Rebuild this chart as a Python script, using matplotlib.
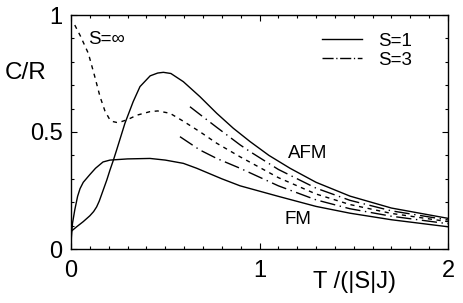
import matplotlib
matplotlib.use("Agg")
import matplotlib.pyplot as plt
from matplotlib.ticker import MultipleLocator
from matplotlib.lines import Line2D

plt.rcParams['font.family'] = ['Liberation Sans', 'DejaVu Sans']

# S=1 antiferromagnet (solid, upper)
T_afm1 = [0.0, 0.03, 0.065, 0.1, 0.12, 0.136, 0.15, 0.17, 0.19, 0.207, 0.225, 0.242, 0.286, 0.33, 0.366,
          0.42, 0.46, 0.49, 0.53, 0.596, 0.684, 0.773, 0.861, 0.95, 1.05, 1.162, 1.3, 1.48, 1.7, 2.0]
C_afm1 = [0.075, 0.095, 0.117, 0.142, 0.16, 0.18, 0.205, 0.25, 0.295, 0.338, 0.38, 0.423, 0.537, 0.63, 0.694,
          0.74, 0.752, 0.755, 0.75, 0.715, 0.651, 0.58, 0.516, 0.459, 0.40, 0.345, 0.285, 0.226, 0.175, 0.131]

# S=1 ferromagnet (solid, lower)
T_fm1 = [0.0, 0.002, 0.008, 0.02, 0.035, 0.048, 0.065, 0.1, 0.13, 0.17, 0.207, 0.3, 0.419, 0.5, 0.596,
         0.667, 0.8, 0.897, 1.1, 1.3, 1.48, 1.7, 2.0]
C_fm1 = [0.0, 0.05, 0.11, 0.167, 0.225, 0.258, 0.285, 0.318, 0.345, 0.372, 0.38, 0.385, 0.387, 0.38, 0.366,
         0.345, 0.30, 0.27, 0.225, 0.182, 0.153, 0.125, 0.095]

# S=3 antiferromagnet (dash-dot, upper)
T_afm3 = [0.631, 0.684, 0.773, 0.897, 0.95, 1.1, 1.3, 1.48, 1.7, 2.0]
C_afm3 = [0.608, 0.575, 0.52, 0.445, 0.416, 0.34, 0.26, 0.208, 0.163, 0.124]

# S=3 ferromagnet (dash-dot, lower)
T_fm3 = [0.578, 0.684, 0.773, 0.897, 1.1, 1.3, 1.48, 1.7, 2.0]
C_fm3 = [0.48, 0.423, 0.387, 0.345, 0.27, 0.21, 0.172, 0.14, 0.108]

# S=infinity (dashed)
T_inf = [0.02, 0.05, 0.092, 0.125, 0.154, 0.18, 0.207, 0.225, 0.242, 0.27, 0.3, 0.35, 0.419, 0.46,
         0.525, 0.596, 0.684, 0.773, 0.897, 1.1, 1.3, 1.48, 1.7, 2.0]
C_inf = [0.957, 0.91, 0.836, 0.74, 0.651, 0.59, 0.551, 0.544, 0.541, 0.545, 0.553, 0.572, 0.587, 0.59,
         0.58, 0.546, 0.501, 0.452, 0.394, 0.305, 0.235, 0.19, 0.152, 0.117]

x_ticks = [0, 1, 2]
x_ticklabels = ['0', '1', '2']
y_ticks = [0, 0.5, 1]
y_ticklabels = ['0', '0.5', '1']
legend_labels = ['S=1', 'S=3']

fig = plt.figure(figsize=(4.63, 3.03), dpi=100)
ax = fig.add_axes([71/463, 1-249/303, 377/463, 234/303])

lw = 1.0
dashdot = (0, (11, 3.3, 1, 3.3))
dashdot_leg = (0, (8, 1.9, 0.9, 1.9))
dashed = (0, (3, 3.3))

ax.plot(T_afm1, C_afm1, color='black', lw=lw, ls='-')
ax.plot(T_fm1, C_fm1, color='black', lw=lw, ls='-')
ax.plot(T_afm3, C_afm3, color='black', lw=lw, ls=dashdot)
ax.plot(T_fm3, C_fm3, color='black', lw=lw, ls=dashdot)
ax.plot(T_inf, C_inf, color='black', lw=lw, ls=dashed)

ax.set_xlim(0, 2)
ax.set_ylim(0, 1)
ax.set_xticks(x_ticks)
ax.set_xticklabels(x_ticklabels)
ax.set_yticks(y_ticks)
ax.set_yticklabels(y_ticklabels)
ax.xaxis.set_minor_locator(MultipleLocator(0.1))
ax.yaxis.set_minor_locator(MultipleLocator(0.1))
ax.tick_params(which='both', direction='in', top=True, right=True, width=0.8)
ax.tick_params(which='major', length=4)
ax.tick_params(which='minor', length=2.2)
ax.tick_params(axis='x', which='major', labelsize=17, pad=8)
ax.tick_params(axis='y', which='major', labelsize=17, pad=6)
for s in ax.spines.values():
    s.set_linewidth(1.0)

h1 = Line2D([], [], color='black', lw=lw, ls='-')
h3 = Line2D([], [], color='black', lw=lw, ls=dashdot_leg)
ax.legend(handles=[h1, h3], labels=legend_labels, loc='upper left',
          bbox_to_anchor=(0.666, 0.925), frameon=False, fontsize=13.5,
          handlelength=2.15, handletextpad=0.85, labelspacing=0.12,
          borderaxespad=0, borderpad=0)

ax.text(-0.175, 0.752, 'C/R', transform=ax.transAxes, fontsize=17.5, ha='left', va='center')
ax.text(0.642, -0.141, 'T /(|S|J)', transform=ax.transAxes, fontsize=17, ha='left', va='center')
ax.text(0.09, 0.897, 'S=∞', fontsize=13.5, ha='left', va='center')
ax.text(1.153, 0.41, 'AFM', fontsize=13.5, ha='left', va='center')
ax.text(1.135, 0.128, 'FM', fontsize=13.5, ha='left', va='center')

fig.savefig('out.png', dpi=100)
